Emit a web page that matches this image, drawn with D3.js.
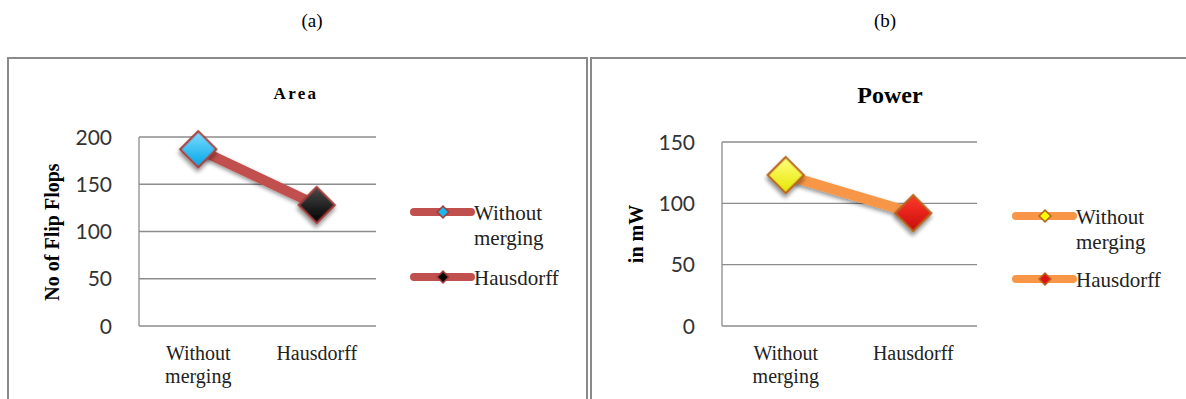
<!DOCTYPE html>
<html><head><meta charset="utf-8">
<script src="https://cdn.jsdelivr.net/npm/d3@7"></script>
<style>body{margin:0;background:#fff}svg{display:block}</style>
</head><body>
<svg id="c" width="1186" height="399"></svg>
<script>
const categories = ["Without merging", "Hausdorff"];
const areaValues = [187, 128];
const powerValues = [123, 92];
const areaTicks = [0, 50, 100, 150, 200];
const powerTicks = [0, 50, 100, 150];
const legendNames = ["Without merging", "Hausdorff"];
const panelLabels = ["(a)", "(b)"];

const svg = d3.select("#c");
const defs = svg.append("defs");
const f = defs.append("filter").attr("id","sh").attr("x","-50%").attr("y","-50%").attr("width","200%").attr("height","200%");
f.append("feGaussianBlur").attr("in","SourceAlpha").attr("stdDeviation",2.2);
f.append("feOffset").attr("dx",2).attr("dy",3).attr("result","o");
f.append("feComponentTransfer").append("feFuncA").attr("type","linear").attr("slope",0.45);
const m = f.append("feMerge"); m.append("feMergeNode"); m.append("feMergeNode").attr("in","SourceGraphic");

function grad(id, c1, c2){
  const g = defs.append("linearGradient").attr("id",id).attr("x1","0").attr("y1","0").attr("x2","1").attr("y2","1");
  g.append("stop").attr("offset","0").attr("stop-color",c1);
  g.append("stop").attr("offset","1").attr("stop-color",c2);
}
grad("gBlue","#7fdcff","#00a6e8");
grad("gBlack","#4a4a4a","#000000");
grad("gYellow","#ffff80","#e6e600");
grad("gRed","#ff3a2a","#c80a0a");

const serif = "'Liberation Serif','Times New Roman',serif";
const sans = "Lato, 'Open Sans', sans-serif";

svg.append("path").attr("d","M8,399 L8,58 L587,58 L587,399").attr("fill","none").attr("stroke","#8a8a8a").attr("stroke-width",2);
svg.append("path").attr("d","M591,399 L591,58 L1186,58").attr("fill","none").attr("stroke","#8a8a8a").attr("stroke-width",2);

svg.append("text").attr("x",312).attr("y",27).attr("text-anchor","middle").style("font-family",serif).style("font-size","19px").text(panelLabels[0]);
svg.append("text").attr("x",885).attr("y",27).attr("text-anchor","middle").style("font-family",serif).style("font-size","19px").text(panelLabels[1]);

function panel(cfg){
  const g = svg.append("g");
  const x = d3.scaleBand().domain(categories).range([cfg.x0, cfg.x1]);
  const y = d3.scaleLinear().domain([0, d3.max(cfg.ticks)]).range([cfg.yb, cfg.yt]);
  g.selectAll("line.grid").data(cfg.ticks).join("line")
    .attr("x1",cfg.x0).attr("x2",cfg.x1).attr("y1",d=>y(d)).attr("y2",d=>y(d))
    .attr("stroke","#8c8c8c").attr("stroke-width",1.3);
  g.append("line").attr("x1",cfg.x0).attr("x2",cfg.x0).attr("y1",cfg.yt).attr("y2",cfg.yb).attr("stroke","#8c8c8c").attr("stroke-width",1.3);
  g.selectAll("text.tick").data(cfg.ticks).join("text")
    .attr("x",cfg.x0-27).attr("y",d=>y(d)).attr("dy","0.36em").attr("text-anchor","end")
    .style("font-family",sans).style("font-size","21px").attr("fill","#333")
    .text(d=>d);
  categories.forEach(c=>{
    const words = c.split(" ");
    const t = g.append("text").attr("text-anchor","middle").style("font-family",serif).style("font-size","20px").attr("fill","#222");
    words.forEach((w,i)=>t.append("tspan").attr("x",x(c)+x.bandwidth()/2).attr("y",360+i*23).text(w));
  });
  g.append("text").attr("x",cfg.titleX).attr("y",cfg.titleY).attr("text-anchor","middle")
    .style("font-family",serif).style("font-weight","bold").style("font-size",cfg.titleSize+"px")
    .style("letter-spacing",cfg.titleLS+"px").text(cfg.title);
  g.append("text").attr("transform",`translate(${cfg.ytX},${cfg.ytY}) rotate(-90)`).attr("text-anchor","middle")
    .style("font-family",serif).style("font-weight","bold").style("font-size","20px").text(cfg.yTitle);
  const pts = categories.map((c,i)=>({c, v:cfg.values[i], i}));
  g.append("path").datum(pts)
    .attr("d", d3.line().x(d=>x(d.c)+x.bandwidth()/2).y(d=>y(d.v)))
    .attr("fill","none").attr("stroke",cfg.lineColor).attr("stroke-width",10).attr("filter","url(#sh)");
  const sym = d3.symbol(d3.symbolSquare, 650);
  g.selectAll("path.mk").data(pts).join("path")
    .attr("d", sym)
    .attr("transform", d=>`translate(${x(d.c)+x.bandwidth()/2},${y(d.v)}) rotate(45)`)
    .attr("fill", d=>cfg.markerFills[d.i]).attr("stroke",cfg.markerStroke).attr("stroke-width",2.2)
    .attr("filter","url(#sh)");
  legendNames.forEach((n,i)=>{
    const ly = cfg.legY[i];
    g.append("line").attr("x1",cfg.legX).attr("x2",cfg.legX+57).attr("y1",ly).attr("y2",ly)
      .attr("stroke",cfg.lineColor).attr("stroke-width",8).attr("stroke-linecap","round");
    g.append("path").attr("d",d3.symbol(d3.symbolSquare,70))
      .attr("transform",`translate(${cfg.legX+29},${ly}) rotate(45)`)
      .attr("fill",cfg.legendFills[i]).attr("stroke",cfg.markerStroke).attr("stroke-width",1.5);
    const words = n.split(" ");
    const t = g.append("text").style("font-family",serif).style("font-size","21px").attr("fill","#222");
    words.forEach((w,k)=>t.append("tspan").attr("x",cfg.legX+60).attr("y",ly+8+k*25).text(w));
  });
}

panel({x0:139,x1:376,yt:137,yb:326,ticks:areaTicks,values:areaValues,
  title:"Area",titleX:296,titleY:99,titleSize:17,titleLS:2.3,
  yTitle:"No of Flip Flops",ytX:59,ytY:232,
  lineColor:"#c0504d",markerStroke:"#a33d3a",markerFills:["url(#gBlue)","url(#gBlack)"],legendFills:["#1ab8f0","#000"],
  legX:414,legY:[212,277]});
panel({x0:722,x1:977,yt:142,yb:326,ticks:powerTicks,values:powerValues,
  title:"Power",titleX:890,titleY:103,titleSize:24,titleLS:0,
  yTitle:"in mW",ytX:643,ytY:234,
  lineColor:"#f79646",markerStroke:"#b5651d",markerFills:["url(#gYellow)","url(#gRed)"],legendFills:["#ffff00","#e01010"],
  legX:1016,legY:[216,279]});
</script>
</body></html>
